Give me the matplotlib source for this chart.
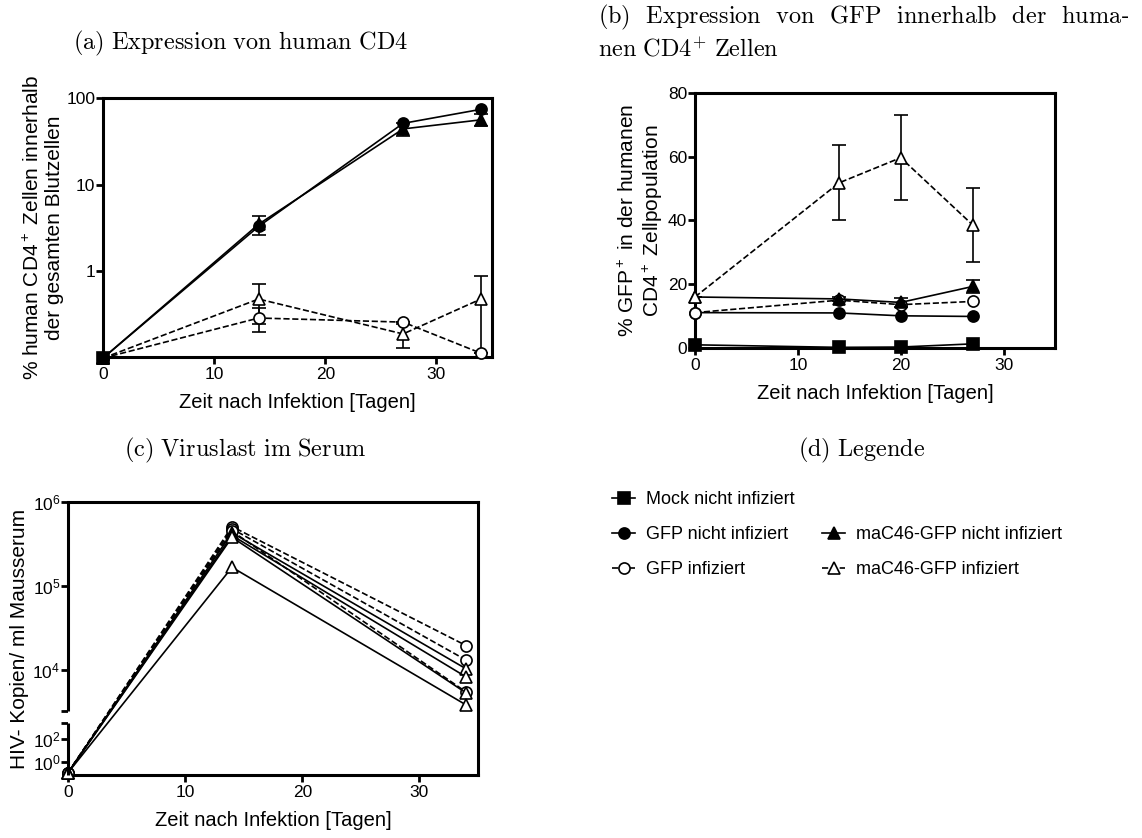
# -*- coding: utf-8 -*-
import numpy as np
import matplotlib
matplotlib.use('Agg')
import matplotlib.pyplot as plt
from matplotlib.lines import Line2D
from matplotlib.ticker import NullLocator

plt.rcParams['font.family'] = ['Liberation Sans', 'DejaVu Sans']
plt.rcParams['mathtext.fontset'] = 'custom'
plt.rcParams['mathtext.rm'] = 'Liberation Sans'
plt.rcParams['mathtext.it'] = 'Liberation Sans:italic'
plt.rcParams['mathtext.bf'] = 'Liberation Sans:bold'

# (a) human CD4 in blood [%]
days_a = [0, 14, 27, 34]
mock_a = [0.1]
gfp_nicht_a = [0.1, 3.3, 51, 74]
mac_nicht_a = [0.1, 3.5, 44, 56]
mac_nicht_a_err = [0, 0.9, 8, 9]
gfp_inf_a = [0.1, 0.29, 0.26, 0.114]
gfp_inf_a_err = [0, 0.09, 0.0, 0.0]
mac_inf_a = [0.1, 0.48, 0.19, 0.48]
mac_inf_a_err = [0, 0.23, 0.06, 0.4]

# (b) GFP+ within human CD4+ [%]
days_b = [0, 14, 20, 27]
mock_b = [1.0, 0.2, 0.3, 1.3]
gfp_nicht_b = [11.1, 11.0, 10.1, 9.9]
gfp_inf_b = [11.1, 15.0, 13.6, 14.6]
mac_nicht_b = [16.0, 15.4, 14.3, 19.3]
mac_nicht_b_err = [0, 0.5, 1.5, 2.1]
mac_inf_b = [16.0, 51.8, 59.7, 38.6]
mac_inf_b_err = [0, 11.8, 13.4, 11.5]

# (c) viral load, single mice
days_c = [0, 14, 34]
gfp_inf_c = [[0.1, 510000, 19500],
             [0.1, 480000, 13100],
             [0.1, 450000, 5460]]
mac_inf_c = [[0.1, 430000, 10300],
             [0.1, 400000, 8250],
             [0.1, 380000, 5320],
             [0.1, 167000, 3830]]

W, H = 1142, 838
fig = plt.figure(figsize=(W / 100, H / 100), dpi=100)

def box(l, t, r, b):
    return [l / W, 1 - b / H, (r - l) / W, (b - t) / H]

styles = {
    'mock': dict(marker='s', mfc='k', ls='-'),
    'gfp_nicht': dict(marker='o', mfc='k', ls='-'),
    'gfp_inf': dict(marker='o', mfc='white', ls='--'),
    'mac_nicht': dict(marker='^', mfc='k', ls='-'),
    'mac_inf': dict(marker='^', mfc='white', ls='--'),
}

def draw(ax, x, y, key, err=None, ms=8, ls=None):
    st = styles[key]
    if err is not None:
        ax.errorbar(x, y, yerr=err, fmt='none', ecolor='k', elinewidth=1.2,
                    capsize=5, capthick=1.2, zorder=2)
    ax.plot(x, y, color='k', lw=1.2, ls=ls or st['ls'], marker=st['marker'],
            mfc=st['mfc'], mec='k', mew=1.2, ms=ms, clip_on=False, zorder=3)

def style_axes(ax):
    for s in ax.spines.values():
        s.set_linewidth(2.2)
    ax.tick_params(direction='out', length=5, width=2, labelsize=12.5, pad=2)
    ax.tick_params(axis='y', pad=0.5)
    ax.set_xlabel('Zeit nach Infektion [Tagen]', fontsize=14.5, labelpad=8)

# ---------------- (a)
ax = fig.add_axes(box(103, 98, 492, 357))
draw(ax, [0], mock_a, 'mock')
draw(ax, days_a, gfp_inf_a, 'gfp_inf', gfp_inf_a_err)
draw(ax, days_a, mac_inf_a, 'mac_inf', mac_inf_a_err)
draw(ax, days_a, mac_nicht_a, 'mac_nicht', mac_nicht_a_err)
draw(ax, days_a, gfp_nicht_a, 'gfp_nicht')
ax.set_yscale('log')
ax.set_ylim(0.103, 100)
ax.set_xlim(0, 35)
ax.set_xticks([0, 10, 20, 30])
ax.set_yticks([1, 10, 100])
ax.set_yticklabels(['1', '10', '100'])
ax.yaxis.set_minor_locator(NullLocator())
style_axes(ax)
ax.set_ylabel('% human CD4$^+$ Zellen innerhalb\nder gesamten Blutzellen',
              fontsize=15, linespacing=1.15)
ax.yaxis.set_label_coords(-0.1, 0.5)

# ---------------- (b)
ax = fig.add_axes(box(695, 93, 1055, 348))
draw(ax, days_b, mock_b, 'mock')
draw(ax, days_b, gfp_nicht_b, 'gfp_nicht')
draw(ax, days_b, gfp_inf_b, 'gfp_inf')
draw(ax, days_b, mac_nicht_b, 'mac_nicht', mac_nicht_b_err)
draw(ax, days_b, mac_inf_b, 'mac_inf', mac_inf_b_err)
ax.set_xlim(0, 35)
ax.set_ylim(0, 80)
ax.set_xticks([0, 10, 20, 30])
ax.set_yticks([0, 20, 40, 60, 80])
style_axes(ax)
ax.set_ylabel('% GFP$^+$ in der humanen\nCD4$^+$ Zellpopulation',
              fontsize=15, linespacing=1.15)
ax.yaxis.set_label_coords(-0.083, 0.5)

# ---------------- (c) broken log axis
seg_log = np.array([-20, -1.2, 3.43, 3.515, 6.0, 20])
seg_px = np.array([-210.6, 0, 51.9, 64.3, 273.3, 1449.3])

def fwd(y):
    return np.interp(np.log10(np.clip(y, 1e-300, None)), seg_log, seg_px)

def inv(t):
    return 10 ** np.interp(t, seg_px, seg_log)

ax = fig.add_axes(box(68, 502, 478, 775))
ax.set_yscale('function', functions=(fwd, inv))
for v in gfp_inf_c:
    draw(ax, days_c, v, 'gfp_inf')
for v in mac_inf_c:
    draw(ax, days_c, v, 'mac_inf', ls='-')
ax.set_xlim(0, 35)
ax.set_ylim(10 ** -1.2, 1e6)
ax.set_xticks([0, 10, 20, 30])
ax.set_yticks([1, 100, 10 ** 3.43, 10 ** 3.515, 1e4, 1e5, 1e6])
ax.set_yticklabels(['$10^0$', '$10^2$', '', '', '$10^4$', '$10^5$', '$10^6$'])
ax.yaxis.set_minor_locator(NullLocator())
# white band cuts the lines at the axis break; right spine stays whole
ax.axhspan(10 ** 3.43, 10 ** 3.515, xmax=0.98, color='white', zorder=2.6)
ax.spines['left'].set_visible(False)
for lo, hi in [(10 ** -1.2, 10 ** 3.43), (10 ** 3.515, 1e6)]:
    ax.plot([0, 0], [lo, hi], transform=ax.get_yaxis_transform(), color='k',
            lw=2.2, clip_on=False, solid_capstyle='butt', zorder=4)
style_axes(ax)
ax.set_ylabel('HIV- Kopien/ ml Mausserum', fontsize=15)
ax.yaxis.set_label_coords(-0.095, 0.5)

# ---------------- (d) legend
def handle(k):
    st = styles[k]
    return Line2D([], [], color='k', lw=1.2, mec='k', mew=1.2, ms=8,
                  ls=st['ls'], marker=st['marker'], mfc=st['mfc'])

handles = [handle('mock'), handle('gfp_nicht'), handle('gfp_inf'),
           Line2D([], [], alpha=0), handle('mac_nicht'), handle('mac_inf')]
labels = ['Mock nicht infiziert', 'GFP nicht infiziert', 'GFP infiziert', '',
          'maC46-GFP nicht infiziert', 'maC46-GFP infiziert']
fig.legend(handles, labels, loc='upper left', bbox_to_anchor=(612 / W, 1 - 491 / H),
           ncol=2, frameon=False, fontsize=13, handlelength=1.3,
           labelspacing=1.0, columnspacing=1.5, handletextpad=0.6,
           borderaxespad=0, borderpad=0)

# ---------------- captions (b line 1 is justified, hence the wider gaps)
cap = dict(fontsize=17.5, math_fontfamily='cm', va='center')
fig.text(241 / W, 1 - 43 / H, r'$\mathrm{(a)\ Expression\ von\ human\ CD4}$',
         ha='center', **cap)
fig.text(598 / W, 1 - 17 / H,
         r'$\mathrm{(b)\ \:\,Expression\ \:\,von\ \:\,GFP\ \:\,innerhalb'
         r'\ \:\,der\ \:\,huma}$-',
         ha='left', **cap)
fig.text(598 / W, 1 - 50 / H, r'$\mathrm{nen\ CD4}^{+}\mathrm{\ Zellen}$',
         ha='left', **cap)
fig.text(245 / W, 1 - 450 / H, r'$\mathrm{(c)\ Viruslast\ im\ Serum}$',
         ha='center', **cap)
fig.text(862 / W, 1 - 450 / H, r'$\mathrm{(d)\ Legende}$', ha='center', **cap)

plt.savefig('out.png', dpi=100)
